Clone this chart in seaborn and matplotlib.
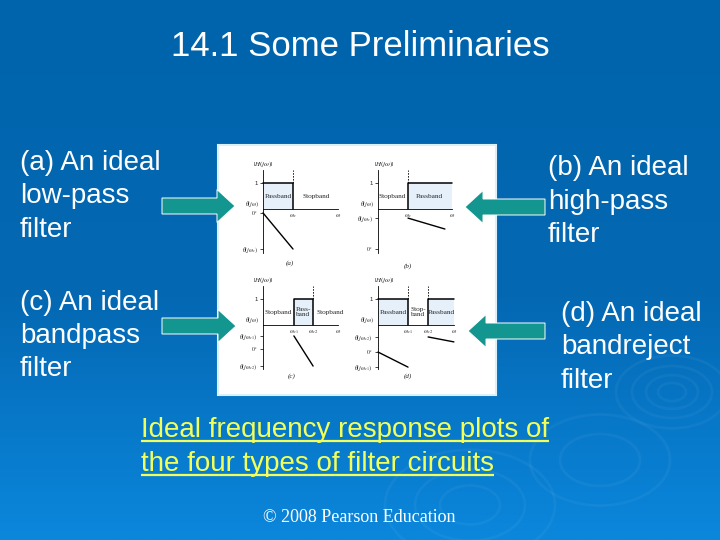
import matplotlib
matplotlib.use("Agg")
import matplotlib.pyplot as plt
import numpy as np
import seaborn as sns
from matplotlib.patches import Rectangle, FancyArrow, Ellipse
from matplotlib.colors import LinearSegmentedColormap

sns.set_style("white")
plt.rcParams['font.family'] = ['Liberation Sans', 'DejaVu Sans']
plt.rcParams['mathtext.fontset'] = 'stix'

title = "14.1 Some Preliminaries"
left_text = [["(a) An ideal", "low-pass", "filter"], ["(c) An ideal", "bandpass", "filter"]]
right_text = [["(b) An ideal", "high-pass", "filter"], ["(d) An ideal", "bandreject", "filter"]]
caption = ["Ideal frequency response plots of", "the four types of filter circuits"]
credit = "\u00a9 2008 Pearson Education"

# frequency axis in units of the first cutoff, magnitude 0..1, phase drawn below the w axis
lp_pass = [0.0, 1.0]
lp_mag_w = [0.0, 1.0, 1.0]
lp_mag = [1.0, 1.0, 0.0]
lp_phase_w = [0.0, 1.0]
lp_phase = [-0.15, -1.54]

hp_pass = [1.0, 2.47]
hp_mag_w = [1.0, 1.0, 2.47]
hp_mag = [0.0, 1.0, 1.0]
hp_phase_w = [1.0, 2.23]
hp_phase = [-0.35, -0.77]

bp_pass = [1.03, 1.67]
bp_mag_w = [1.03, 1.03, 1.67, 1.67]
bp_mag = [0.0, 1.0, 1.0, 0.0]
bp_phase_w = [1.03, 1.67]
bp_phase = [-0.42, -1.58]

br_pass1 = [0.0, 1.0]
br_pass2 = [1.67, 2.53]
br_mag1_w = [0.0, 1.0, 1.0]
br_mag1 = [1.0, 1.0, 0.0]
br_mag2_w = [1.67, 1.67, 2.53]
br_mag2 = [0.0, 1.0, 1.0]
br_phase1_w = [0.0, 1.0]
br_phase1 = [-1.04, -1.62]
br_phase2_w = [1.67, 2.53]
br_phase2 = [-0.46, -0.65]

lp_yticks = [1, -0.15, -1.54]
lp_ylabels = ["1", r"$0^\circ$", r"$\theta(j\omega_c)$"]
hp_yticks = [1, -0.35, -1.54]
hp_ylabels = ["1", r"$\theta(j\omega_c)$", r"$0^\circ$"]
bp_yticks = [1, -0.42, -0.92, -1.58]
bp_ylabels = ["1", r"$\theta(j\omega_{c1})$", r"$0^\circ$", r"$\theta(j\omega_{c2})$"]
br_yticks = [1, -0.46, -1.04, -1.62]
br_ylabels = ["1", r"$\theta(j\omega_{c2})$", r"$0^\circ$", r"$\theta(j\omega_{c1})$"]

lp_xticks = [1.0, 2.5]
lp_xlabels = [r"$\omega_c$", r"$\omega$"]
hp_xticks = [1.0, 2.47]
hp_xlabels = [r"$\omega_c$", r"$\omega$"]
bp_xticks = [1.03, 1.67, 2.5]
bp_xlabels = [r"$\omega_{c1}$", r"$\omega_{c2}$", r"$\omega$"]
br_xticks = [1.0, 1.67, 2.53]
br_xlabels = [r"$\omega_{c1}$", r"$\omega_{c2}$", r"$\omega$"]

lp_bands = [("Passband", 0.5), ("Stopband", 1.77)]
hp_bands = [("Stopband", 0.47), ("Passband", 1.7)]
bp_bands = [("Stopband", 0.5), ("Pass-\nband", 1.35), ("Stopband", 2.23)]
br_bands = [("Passband", 0.5), ("Stop-\nband", 1.33), ("Passband", 2.1)]

lp_dashed = [1.0]
hp_dashed = [1.0]
bp_dashed = [1.67]
br_dashed = [1.0, 1.67]

panels = [
    dict(name="(a)", origin=(263, 209), passes=[lp_pass], mags=[(lp_mag_w, lp_mag)],
         phases=[(lp_phase_w, lp_phase)], yt=lp_yticks, yl=lp_ylabels, xt=lp_xticks, xl=lp_xlabels,
         bands=lp_bands, dashed=lp_dashed, hlab=0.0, letter=(0.9, -2.08)),
    dict(name="(b)", origin=(378, 209), passes=[hp_pass], mags=[(hp_mag_w, hp_mag)],
         phases=[(hp_phase_w, hp_phase)], yt=hp_yticks, yl=hp_ylabels, xt=hp_xticks, xl=hp_xlabels,
         bands=hp_bands, dashed=hp_dashed, hlab=0.23, letter=(1.0, -2.2)),
    dict(name="(c)", origin=(263, 325), passes=[bp_pass], mags=[(bp_mag_w, bp_mag)],
         phases=[(bp_phase_w, bp_phase)], yt=bp_yticks, yl=bp_ylabels, xt=bp_xticks, xl=bp_xlabels,
         bands=bp_bands, dashed=bp_dashed, hlab=0.0, letter=(0.97, -1.96)),
    dict(name="(d)", origin=(378, 325), passes=[br_pass1, br_pass2],
         mags=[(br_mag1_w, br_mag1), (br_mag2_w, br_mag2)],
         phases=[(br_phase1_w, br_phase1), (br_phase2_w, br_phase2)], yt=br_yticks, yl=br_ylabels,
         xt=br_xticks, xl=br_xlabels, bands=br_bands, dashed=br_dashed, hlab=0.23, letter=(1.0, -1.96)),
]

W, H = 720, 540
fig = plt.figure(figsize=(7.2, 5.4), dpi=100)

# background
bg = fig.add_axes([0, 0, 1, 1])
bg_cmap = LinearSegmentedColormap.from_list("slide", [(0, "#0064ac"), (0.55, "#0468b3"), (1, "#0b87dc")])
grad = np.linspace(0, 1, 256).reshape(-1, 1)
bg.imshow(grad, cmap=bg_cmap, aspect="auto", extent=(0, W, H, 0))
bg.set_xlim(0, W)
bg.set_ylim(H, 0)
bg.axis("off")

# faint ripples
for cx, cy, rads in [(672, 392, [14, 26, 40, 56]), (470, 505, [30, 55, 85]), (600, 460, [40, 70])]:
    for r in rads:
        bg.add_patch(Ellipse((cx, cy), 2 * r, 1.3 * r, fill=False, ec="white", lw=2, alpha=0.045))

# picture box
bg.add_patch(Rectangle((218, 145), 278, 250, fc="white", ec="#dcf0fa", lw=1.5, zorder=2))

# arrows
arrow_col = "#13968f"
for x0, x1, y in [(162, 235, 206), (162, 236, 326), (545, 465, 207), (545, 468, 331)]:
    bg.add_patch(FancyArrow(x0, y, x1 - x0, 0, width=16, head_width=33, head_length=18,
                            length_includes_head=True, fc=arrow_col, ec="white", lw=0.7, zorder=5))

# slide text
bg.text(360, 56, title, color="white", fontsize=25, ha="center", va="baseline")
for lines, x, bases in [(left_text[0], 20, [170, 203, 237]), (left_text[1], 20, [310, 343, 376])]:
    for s, b in zip(lines, bases):
        bg.text(x, b, s, color="white", fontsize=20, ha="left", va="baseline")
for lines, x, bases in [(right_text[0], 548, [175, 209, 242]), (right_text[1], 561, [321, 354, 388])]:
    for s, b in zip(lines, bases):
        bg.text(x, b, s, color="white", fontsize=20, ha="left", va="baseline")

yellow = "#f2ff5a"
cap_texts = []
for s, b in zip(caption, [437, 471]):
    cap_texts.append((bg.text(141, b, s, color=yellow, fontsize=20, ha="left", va="baseline"), b))
bg.text(359, 522, credit, color="white", fontsize=13, ha="center", va="baseline",
        family=["Liberation Serif", "DejaVu Serif"])

# filter panels
serif = ["Liberation Serif", "DejaVu Serif"]
for p in panels:
    ox, oy = p["origin"]
    ax = fig.add_axes([(ox - 45) / W, (H - (oy + 60)) / H, 130 / W, 120 / H], zorder=3)
    ax.patch.set_alpha(0)
    for pb in p["passes"]:
        ax.fill_between(pb, 0, 1, color="#e6f0fb", lw=0)
    for mw, mv in p["mags"]:
        sns.lineplot(x=mw, y=mv, ax=ax, color="black", lw=1.1, sort=False, estimator=None)
    for pw, pv in p["phases"]:
        sns.lineplot(x=pw, y=pv, ax=ax, color="black", lw=1.0, sort=False, estimator=None)
    for d in p["dashed"]:
        ax.vlines(d, 1.0, 1.5, color="black", lw=0.6, ls=(0, (2, 1.5)))
    for s, bx in p["bands"]:
        ax.text(bx, 0.5, s, ha="center", va="center", fontsize=5.2, family=serif, linespacing=1.0)
    ax.text(p["hlab"], 1.72, r"$|H(j\omega)|$", ha="center", va="center", fontsize=5)
    ax.text(-0.12, 0.16, r"$\theta(j\omega)$", ha="right", va="center", fontsize=4.3)
    ax.text(p["letter"][0], p["letter"][1], p["name"], ha="center", va="center", fontsize=5,
            family=serif, style="italic")
    ax.set_xlim(-1.5, 2.833)
    ax.set_ylim(-2.308, 2.308)
    for side in ["top", "right"]:
        ax.spines[side].set_visible(False)
    ax.spines["left"].set_position(("data", 0))
    ax.spines["bottom"].set_position(("data", 0))
    ax.spines["left"].set_bounds(-1.7, 1.5)
    ax.spines["bottom"].set_bounds(0, max(p["xt"]))
    for side in ["left", "bottom"]:
        ax.spines[side].set_linewidth(0.6)
        ax.spines[side].set_color("black")
    ax.set_yticks(p["yt"], p["yl"])
    ax.set_xticks(p["xt"], p["xl"])
    ax.tick_params(axis="y", length=2.5, width=0.6, pad=1, labelsize=4.3, left=True)
    ax.tick_params(axis="x", length=0, pad=2, labelsize=4.5, bottom=True)
    ax.set_xlabel("")
    ax.set_ylabel("")

# underline the caption lines
fig.canvas.draw()
inv = bg.transData.inverted()
for t, b in cap_texts:
    bb = t.get_window_extent()
    x0 = inv.transform((bb.x0, bb.y0))[0]
    x1 = inv.transform((bb.x1, bb.y0))[0]
    bg.plot([x0, x1], [b + 4, b + 4], color=yellow, lw=1.6, solid_capstyle="butt")

fig.savefig("out.png", dpi=100)
